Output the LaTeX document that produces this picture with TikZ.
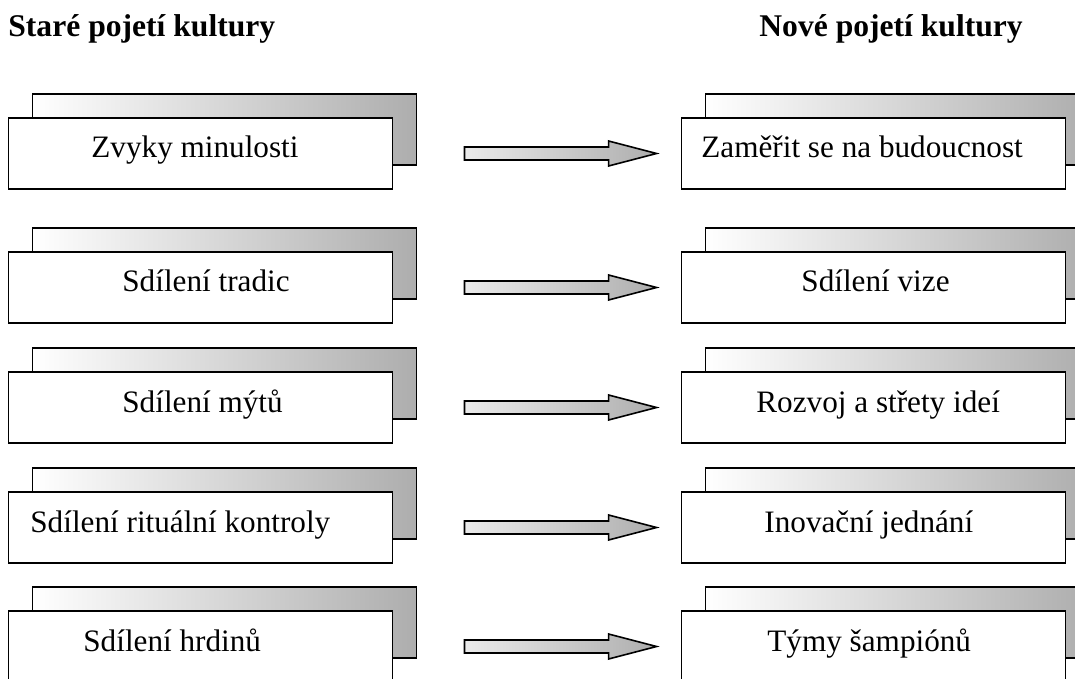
\documentclass[tikz,border=0pt]{standalone}
\usepackage{fontspec}
\setmainfont{Liberation Serif}
\usetikzlibrary{calc, positioning}

% block arrow between two boxes
\newcommand{\bigarrow}[2]{%
  \draw[bigarrow] let \p1 = ($(#1.east)+(71,0)$), \p2 = ($(#2.west)+(-24,0)$) in
    (\x1,\y1+3.25pt) -- (\x2-24pt,\y1+3.25pt) -- (\x2-24pt,\y1+6.25pt) -- (\x2,\y1)
    -- (\x2-24pt,\y1-6.25pt) -- (\x2-24pt,\y1-3.25pt) -- (\x1,\y1-3.25pt) -- cycle;}

\begin{document}
\begin{tikzpicture}[x=0.5pt, y=-0.5pt, font=\fontsize{15.6}{18}\selectfont]
	\tikzstyle{back} = [draw=black, line width=0.95pt, rectangle, inner sep=0pt, minimum width=192pt, minimum height=35.5pt, left color=white, right color=black!32]
	\tikzstyle{front} = [draw=black, line width=0.95pt, fill=white, rectangle, inner sep=0pt, minimum width=192pt, minimum height=35.5pt]
	\tikzstyle{txt} = [anchor=base west, inner sep=0pt]
	\tikzstyle{title} = [anchor=base west, inner sep=0pt, font=\fontsize{15.8}{18}\selectfont\bfseries]
	\tikzstyle{bigarrow} = [draw=black, line width=0.8pt, left color=black!8, right color=black!32]

	\useasboundingbox (0,0) rectangle (1075,679);
	\clip (0,0) rectangle (1075,679);

	\node[title]	at (8, 37)		(tl)	{Staré pojetí kultury};
	\node[title]	at (759, 37)	(tr)	{Nové pojetí kultury};

	% stacked boxes, old (a) and new (b)
	\foreach \n/\y in {1/153.5, 2/287.5, 3/407.5, 4/527.5, 5/646.5} {
		\node[back]		at (224.5, \y-24)	(a\n back)	{};
		\node[front]	at (200.5, \y)		(a\n)		{};
		\node[back]		at (897.5, \y-24)	(b\n back)	{};
		\node[front]	at (873.5, \y)		(b\n)		{};
	}

	\node[txt]	at (91, 158)	(ta1)	{Zvyky minulosti};
	\node[txt]	at (122, 292)	(ta2)	{Sdílení tradic};
	\node[txt]	at (122, 412)	(ta3)	{Sdílení mýtů};
	\node[txt]	at (30, 532)	(ta4)	{Sdílení rituální kontroly};
	\node[txt]	at (83, 651)	(ta5)	{Sdílení hrdinů};

	\node[txt]	at (701, 158)	(tb1)	{Zaměřit se na budoucnost};
	\node[txt]	at (801, 292)	(tb2)	{Sdílení vize};
	\node[txt]	at (756, 412)	(tb3)	{Rozvoj a střety ideí};
	\node[txt]	at (764, 532)	(tb4)	{Inovační jednání};
	\node[txt]	at (767, 651)	(tb5)	{Týmy šampiónů};

	\bigarrow{a1}{b1}
	\bigarrow{a2}{b2}
	\bigarrow{a3}{b3}
	\bigarrow{a4}{b4}
	\bigarrow{a5}{b5}
\end{tikzpicture}
\end{document}
